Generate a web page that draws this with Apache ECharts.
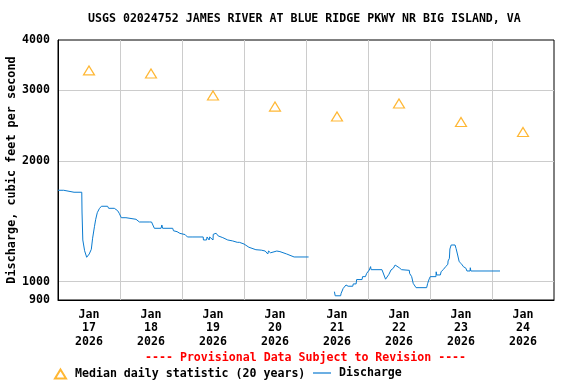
<!DOCTYPE html>
<html>
<head>
<meta charset="utf-8">
<script src="https://cdn.jsdelivr.net/npm/echarts@6/dist/echarts.min.js"></script>
<style>html,body{margin:0;padding:0;background:#fff}#c{width:576px;height:384px}</style>
</head>
<body>
<div id="c"></div>
<script>
// Hours since Jan 17 2026 00:00
const dayLabels = ['Jan\n17\n2026','Jan\n18\n2026','Jan\n19\n2026','Jan\n20\n2026','Jan\n21\n2026','Jan\n22\n2026','Jan\n23\n2026','Jan\n24\n2026'];
const labelHours = [12, 36, 60, 84, 108, 132, 156, 180];
const gridHours = [24, 48, 72, 96, 120, 144, 168];
const yTickLabels = [900, 1000, 2000, 3000, 4000];
const yGridValues = [1000, 2000, 3000];

// Median daily statistic (20 years), at noon each day
const medianHours = [12, 36, 60, 84, 108, 132, 156, 180];
const medianValues = [3360, 3300, 2910, 2730, 2580, 2780, 2500, 2360];

// Discharge (cfs)
const dischargeHours = [
  0, 2.2, 2.3, 6.2, 6.3, 6.6, 9.2, 9.3, 9.6, 10.3, 11.1, 11.7, 12.1, 12.9, 13.4, 14.1, 14.6, 15.2, 16.0, 16.8,
  19.2, 19.6, 21.8, 23.1, 23.7, 24.5, 26.3, 30.2, 31.5, 35.3, 35.5, 36.2, 37.3, 39.9, 40.2, 40.5, 44.4, 44.7, 46.1, 47.2,
  49.2, 50.1, 51.9, 56.2, 56.3, 57.5, 57.7, 58.5, 58.7, 60.0, 60.1, 60.8, 61.2, 61.8, 62.0, 62.7, 63.8, 65.7, 67.6, 69.4,
  69.6, 70.2, 72.0, 73.9, 76.6, 78.7, 80.2, 81.2, 81.5, 82.3, 82.6, 84.7, 85.9, 88.5, 91.4, 97.0,
  100,
  107.0, 107.3, 109.4, 109.6, 110.4, 111.5, 112.3, 114.1, 114.3, 115.4, 115.6, 117.7, 117.9, 119.0, 119.5, 120.5, 121.0, 121.2,
  125.4, 125.9, 126.8, 127.5, 128.1, 128.9, 129.8, 130.5, 131.1, 132.1, 133.0, 136.0, 136.1, 136.9, 137.5, 138.6,
  142.7, 143.1, 143.7, 144.1, 146.3, 146.4, 146.6, 148.0, 148.3, 149.2, 149.8, 150.1, 150.9, 151.0, 151.5, 151.7,
  152.2, 153.7, 154.1, 154.7, 155.3, 156.3, 156.9, 157.9, 158.3, 159.5, 159.6, 159.8, 171.1
];
const dischargeValues = [
  1689, 1689, 1670, 1670, 1655, 1670, 1670, 1491, 1270, 1194, 1150, 1150, 1172, 1204, 1283, 1370, 1430, 1485, 1520, 1541,
  1541, 1523, 1523, 1502, 1480, 1443, 1443, 1430, 1408, 1408, 1394, 1408, 1358, 1358, 1384, 1358, 1358, 1339, 1332, 1319,
  1310, 1292, 1292, 1292, 1270, 1270, 1292, 1270, 1292, 1270, 1312, 1300, 1320, 1332, 1300, 1299, 1287, 1270, 1263, 1253,
  1240, 1253, 1241, 1218, 1201, 1198, 1192, 1172, 1192, 1180, 1192, 1192, 1188, 1172, 1152, 1152,
  '-',
  944, 922, 922, 935, 962, 981, 974, 974, 987, 987, 1012, 1012, 1029, 1029, 1049, 1069, 1090, 1071,
  1071, 1063, 1014, 1014, 1043, 1069, 1080, 1100, 1108, 1083, 1071, 1067, 1049, 1029, 990, 966,
  966, 990, 1016, 1029, 1029, 1058, 1039, 1039, 1058, 1073, 1073, 1090, 1105, 1126, 1143, 1206,
  1234, 1234, 1209, 1165, 1121, 1105, 1090, 1080, 1063, 1063, 1083, 1063, 1063
];

const FONT = '"DejaVu Sans Mono", monospace';
const chart = echarts.init(document.getElementById('c'), null, {renderer: 'canvas'});
chart.setOption({
  animation: false,
  backgroundColor: '#fff',
  title: {
    text: 'USGS 02024752 JAMES RIVER AT BLUE RIDGE PKWY NR BIG ISLAND, VA',
    left: 88, top: 13, padding: 0,
    textStyle: {fontFamily: FONT, fontWeight: 'bold', fontSize: 11.6, color: '#000'}
  },
  graphic: [{
    type: 'text', left: 145, top: 352,
    style: {text: '---- Provisional Data Subject to Revision ----', fill: '#ff0000',
      font: 'bold 11.6px ' + FONT}
  }],
  legend: [{
    data: ['Median daily statistic (20 years)'],
    left: 54, top: 368, itemWidth: 11, itemHeight: 9, padding: 0,
    textStyle: {fontFamily: FONT, fontWeight: 'bold', fontSize: 11.6, color: '#000', padding: [0, 0, 0, 4]}
  }, {
    data: [{name: 'Discharge', icon: 'rect'}],
    left: 313, top: 367, itemWidth: 18, itemHeight: 1.2, padding: 0,
    textStyle: {fontFamily: FONT, fontWeight: 'bold', fontSize: 11.6, color: '#000', padding: [0, 0, 0, 3]}
  }],
  grid: {left: 58, right: 22, top: 40, bottom: 84, outerBoundsMode: 'none', containLabel: false,
    show: true, borderColor: '#000', borderWidth: 1, backgroundColor: 'transparent'},
  xAxis: {
    type: 'value', min: 0, max: 192,
    axisLine: {show: true, lineStyle: {color: '#000', width: 1}},
    axisTick: {show: false, customValues: gridHours},
    splitLine: {show: true, lineStyle: {color: '#cccccc', width: 1}},
    axisLabel: {
      customValues: labelHours, margin: 8,
      formatter: function (v) { return dayLabels[labelHours.indexOf(v)] || ''; },
      fontFamily: FONT, fontWeight: 'bold', fontSize: 11.6, color: '#000', lineHeight: 13.5
    }
  },
  yAxis: {
    type: 'log', logBase: 10, min: 900, max: 4000,
    name: 'Discharge, cubic feet per second', nameLocation: 'middle', nameGap: 40, nameMoveOverlap: false,
    nameTextStyle: {fontFamily: FONT, fontWeight: 'bold', fontSize: 11.8, color: '#000'},
    axisLine: {show: true, lineStyle: {color: '#000', width: 1}},
    axisTick: {show: false, customValues: yGridValues},
    splitLine: {show: true, lineStyle: {color: '#cccccc', width: 1}},
    axisLabel: {
      customValues: yTickLabels, margin: 8,
      formatter: function (v) { return String(Math.round(v)); },
      fontFamily: FONT, fontWeight: 'bold', fontSize: 11.6, color: '#000'
    }
  },
  series: [{
    name: 'Median daily statistic (20 years)',
    type: 'scatter', symbol: 'triangle', symbolSize: [11, 9],
    itemStyle: {color: '#ffffff', borderColor: '#FFA500', borderWidth: 1.2},
    data: medianHours.map((h, i) => [h, medianValues[i]])
  }, {
    name: 'Discharge',
    type: 'line', symbol: 'none', showSymbol: false, connectNulls: false,
    lineStyle: {color: '#0a7bd0', width: 1},
    itemStyle: {color: '#0a7bd0'},
    data: dischargeHours.map((h, i) => [h, dischargeValues[i]])
  }]
});
</script>
</body>
</html>
